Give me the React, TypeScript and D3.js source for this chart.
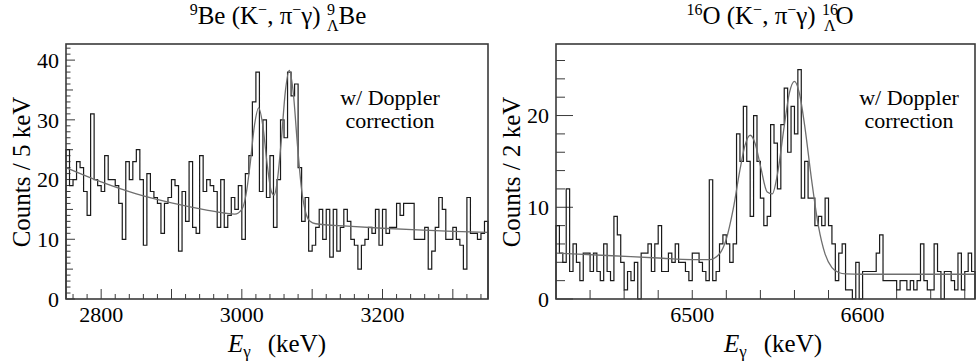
import React from 'react';
import * as d3 from 'd3';

// ---------- Left panel: 9Be(K-, pi- gamma) ----------
const beStart = 2750;
const beBinWidth = 5;
const beCounts = [
  25, 19, 20, 23, 22, 18, 14, 31, 20, 19,
  18, 24, 20, 20, 19, 16, 10, 23, 20, 23,
  25, 20, 9, 21, 18, 17, 16, 11, 16, 17,
  20, 19, 8, 18, 13, 23, 12, 11, 24, 18,
  20, 19, 18, 12, 20, 12, 14, 17, 15, 19,
  10, 21, 24, 33, 38, 18, 30, 17, 24, 12,
  20, 30, 27, 38, 34, 36, 22, 13, 17, 8,
  9, 12, 15, 10, 15, 7, 15, 8, 12, 15,
  13, 10, 9, 5, 9, 10, 12, 11, 15, 9,
  15, 11, 12, 12, 16, 14, 16, 16, 16, 10,
  10, 10, 12, 5, 8, 12, 17, 15, 10, 10,
  12, 10, 9, 5, 17, 11, 11, 10, 11, 13,
];
const beFitE = [2750, 2800, 2850, 2900, 2950, 2975, 2990, 3000, 3006, 3012, 3018, 3024, 3030, 3036, 3042, 3046, 3050, 3056, 3062, 3067.5, 3073, 3079, 3085, 3091, 3097, 3105, 3150, 3200, 3250, 3300, 3350];
const beFitV = [22.0, 19.6, 17.6, 16.1, 14.9, 14.4, 14.2, 15.0, 17.5, 22.8, 29.1, 32.0, 28.9, 22.6, 18.0, 17.4, 19.4, 26.4, 34.9, 38.3, 34.7, 25.9, 18.3, 14.4, 13.0, 12.6, 12.2, 11.85, 11.56, 11.34, 11.16];
const beXLabels = [2800, 3000, 3200];
const beYLabels = [0, 10, 20, 30, 40];

// ---------- Right panel: 16O(K-, pi- gamma) ----------
const oStart = 6420;
const oBinWidth = 2;
const oCounts = [
  8, 5, 4, 12, 3, 6, 4, 2, 5, 5,
  3, 5, 3, 2, 6, 3, 2, 9, 7, 4,
  1, 3, 2, 4, 0, 5, 5, 6, 3, 6,
  8, 3, 3, 5, 4, 6, 4, 4, 3, 2,
  5, 5, 4, 3, 2, 13, 2, 3, 6, 7,
  6, 4, 6, 18, 15, 21, 15, 9, 20, 15,
  11, 8, 9, 19, 17, 12, 19, 23, 16, 21,
  18, 25, 11, 15, 11, 11, 8, 9, 8, 11,
  8, 6, 2, 5, 6, 1, 1, 0, 4, 0,
  3, 3, 3, 3, 5, 7, 2, 2, 2, 2,
  1, 2, 2, 1, 2, 1, 2, 6, 2, 1,
  1, 6, 3, 0, 3, 3, 2, 1, 5, 1,
  3, 5, 3,
];
const oFitE = [6420, 6450, 6480, 6500, 6510, 6516, 6520, 6524, 6528, 6531, 6534, 6537, 6540, 6544, 6547, 6550, 6554, 6557, 6560, 6563, 6566, 6570, 6574, 6578, 6582, 6586, 6590, 6600, 6666];
const oFitV = [5.0, 4.74, 4.47, 4.3, 4.29, 4.93, 6.54, 9.76, 14.07, 16.77, 17.85, 16.9, 14.54, 11.66, 11.46, 13.59, 18.85, 22.44, 23.73, 22.35, 18.9, 13.07, 8.02, 4.89, 3.42, 2.89, 2.74, 2.7, 2.7];
const oXLabels = [6500, 6600];
const oYLabels = [0, 10, 20];

const FONT = '"Liberation Serif", "Times New Roman", "DejaVu Serif", serif';
const FRAME = '#3a3a3a';
const HIST = '#1a1a1a';
const FIT = '#6e6e6e';
const TS: React.CSSProperties = { fontFamily: FONT };

function histPath(counts: number[], start: number, w: number, x: any, y: any) {
  let d = `M${x(start)},${y(0)}`;
  counts.forEach((c, i) => {
    d += `V${y(c)}H${x(start + (i + 1) * w)}`;
  });
  d += `V${y(0)}`;
  return d;
}

export default function App() {
  const bx = d3.scaleLinear().domain([2750, 3350]).range([66, 488]);
  const by = d3.scaleLinear().domain([0, 42.7]).range([299, 44]);
  const ox = d3.scaleLinear().domain([6420, 6666]).range([556, 975]);
  const oy = d3.scaleLinear().domain([0, 27.8]).range([299, 44]);

  const beFit = beFitE.map((e, i) => [e, beFitV[i]] as [number, number]);
  const oFit = oFitE.map((e, i) => [e, oFitV[i]] as [number, number]);

  const bLine = d3.line<[number, number]>().x(d => bx(d[0])).y(d => by(d[1])).curve(d3.curveMonotoneX);
  const oLine = d3.line<[number, number]>().x(d => ox(d[0])).y(d => oy(d[1])).curve(d3.curveMonotoneX);

  const bxMinor = d3.range(2760, 3351, 20);
  const byMinor = d3.range(0, 43, 1);
  const oxMinor = d3.range(6440, 6667, 20);
  const oyMinor = d3.range(0, 28, 2);

  return (
    <svg width={977} height={363} style={{ position: 'absolute', left: 0, top: 0, background: '#fff', fontFamily: FONT }}>
      <rect x={0} y={0} width={977} height={363} fill="#fff" />

      {/* ---------------- LEFT PANEL ---------------- */}
      <g>
        {bxMinor.map(v => (
          <line key={'bxt' + v} x1={bx(v)} x2={bx(v)} y1={299} y2={299 - (v % 100 === 0 ? 10 : 5)} stroke={FRAME} strokeWidth={1} />
        ))}
        {byMinor.map(v => (
          <line key={'byt' + v} x1={66} x2={66 + (v % 10 === 0 ? 9 : v % 5 === 0 ? 7 : 4.5)} y1={by(v)} y2={by(v)} stroke={FRAME} strokeWidth={1} />
        ))}
        <path d={histPath(beCounts, beStart, beBinWidth, bx, by)} fill="none" stroke={HIST} strokeWidth={1.2} />
        <path d={bLine(beFit) || ''} fill="none" stroke={FIT} strokeWidth={1.3} />
        <rect x={66} y={44} width={488 - 66} height={299 - 44} fill="none" stroke={FRAME} strokeWidth={1.6} />
        {beXLabels.map(v => (
          <text key={'bxl' + v} style={TS} x={bx(v)} y={322} fontSize={22} textAnchor="middle">{v}</text>
        ))}
        {beYLabels.map(v => (
          <text key={'byl' + v} style={TS} x={59} y={by(v)} dy="0.35em" fontSize={22} textAnchor="end">{v}</text>
        ))}
        <text style={TS} transform="translate(30,172) rotate(-90)" fontSize={25} textAnchor="middle">Counts / 5 keV</text>
        <text style={TS} x={228} y={352} fontSize={25}>
          <tspan fontStyle="italic">E</tspan>
          <tspan fontSize={17} dy={5}>γ</tspan>
          <tspan dx={17} dy={-5}>(keV)</tspan>
        </text>
        <text style={TS} x={278} y={24} fontSize={25} textAnchor="middle">
          <tspan fontSize={16} dy={-9}>9</tspan>
          <tspan dy={9}>Be (K</tspan>
          <tspan fontSize={16} dy={-9}>−</tspan>
          <tspan dy={9}>, π</tspan>
          <tspan fontSize={16} dy={-9}>−</tspan>
          <tspan dy={9}>γ) </tspan>
          <tspan fontSize={16} dy={-9}>9</tspan>
          <tspan fontSize={16} dx={-8} dy={16}>Λ</tspan>
          <tspan dy={-7}>Be</tspan>
        </text>
        <text style={TS} x={390} y={105} fontSize={22} textAnchor="middle">w/ Doppler</text>
        <text style={TS} x={390} y={128} fontSize={22} textAnchor="middle">correction</text>
      </g>

      {/* ---------------- RIGHT PANEL ---------------- */}
      <g>
        {oxMinor.map(v => (
          <line key={'oxt' + v} x1={ox(v)} x2={ox(v)} y1={299} y2={290} stroke={FRAME} strokeWidth={1} />
        ))}
        {oyMinor.map(v => (
          <line key={'oyt' + v} x1={556} x2={556 + (v % 10 === 0 ? 17 : 9)} y1={oy(v)} y2={oy(v)} stroke={FRAME} strokeWidth={1} />
        ))}
        <path d={histPath(oCounts, oStart, oBinWidth, ox, oy)} fill="none" stroke={HIST} strokeWidth={1.2} />
        <path d={oLine(oFit) || ''} fill="none" stroke={FIT} strokeWidth={1.3} />
        <rect x={556} y={44} width={975 - 556} height={299 - 44} fill="none" stroke={FRAME} strokeWidth={1.6} />
        {oXLabels.map(v => (
          <text key={'oxl' + v} style={TS} x={ox(v)} y={322} fontSize={22} textAnchor="middle">{v}</text>
        ))}
        {oYLabels.map(v => (
          <text key={'oyl' + v} style={TS} x={549} y={oy(v)} dy="0.35em" fontSize={22} textAnchor="end">{v}</text>
        ))}
        <text style={TS} transform="translate(520,172) rotate(-90)" fontSize={25} textAnchor="middle">Counts / 2 keV</text>
        <text style={TS} x={724} y={352} fontSize={25}>
          <tspan fontStyle="italic">E</tspan>
          <tspan fontSize={17} dy={5}>γ</tspan>
          <tspan dx={17} dy={-5}>(keV)</tspan>
        </text>
        <text style={TS} x={770} y={24} fontSize={25} textAnchor="middle">
          <tspan fontSize={16} dy={-9}>16</tspan>
          <tspan dy={9}>O (K</tspan>
          <tspan fontSize={16} dy={-9}>−</tspan>
          <tspan dy={9}>, π</tspan>
          <tspan fontSize={16} dy={-9}>−</tspan>
          <tspan dy={9}>γ) </tspan>
          <tspan fontSize={16} dy={-9}>16</tspan>
          <tspan fontSize={16} dx={-14} dy={16}>Λ</tspan>
          <tspan dy={-7}>O</tspan>
        </text>
        <text style={TS} x={909} y={105} fontSize={22} textAnchor="middle">w/ Doppler</text>
        <text style={TS} x={909} y={128} fontSize={22} textAnchor="middle">correction</text>
      </g>
    </svg>
  );
}
